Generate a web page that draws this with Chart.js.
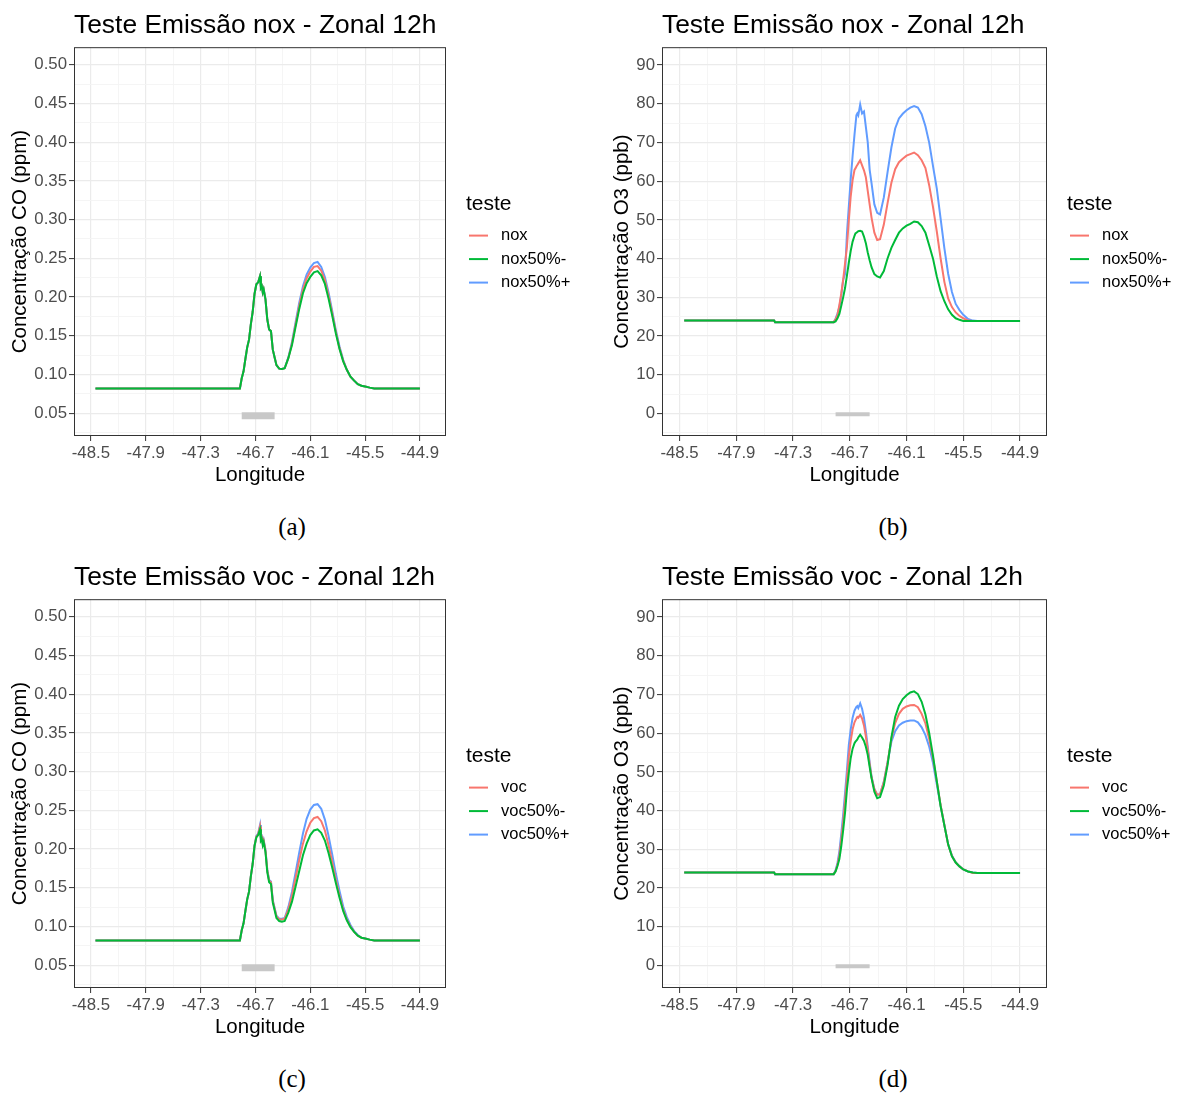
<!DOCTYPE html>
<html lang="pt">
<head>
<meta charset="UTF-8" />
<title>Teste Emissão - Zonal 12h</title>
<script src="https://cdn.jsdelivr.net/npm/chart.js"></script>
<style>
  body { margin: 0; background: #fff; width: 1177px; height: 1095px; position: relative; overflow: hidden; }
  .painel { position: absolute; height: 490px; }
  .legenda { position: absolute; width: 100px; margin-left: -50px; text-align: center; line-height: 30px;
             font-family: "Liberation Serif", "Times New Roman", serif; font-size: 25px; color: #000; }
</style>
</head>
<body>
<div class="painel" style="left:0;top:0;width:590px"><canvas id="graficoA"></canvas></div>
<div class="painel" style="left:590px;top:0;width:587px"><canvas id="graficoB"></canvas></div>
<div class="painel" style="left:0;top:552px;width:590px"><canvas id="graficoC"></canvas></div>
<div class="painel" style="left:590px;top:552px;width:587px"><canvas id="graficoD"></canvas></div>
<div class="legenda" style="left:292px;top:512px">(a)</div>
<div class="legenda" style="left:893px;top:512px">(b)</div>
<div class="legenda" style="left:292px;top:1064px">(c)</div>
<div class="legenda" style="left:893px;top:1064px">(d)</div>

<script>
// longitudes do corte zonal (comum aos quatro painéis)
const lon = [-48.45, -47.50, -47.49, -46.87, -46.85, -46.83, -46.81, -46.79, -46.77, -46.75,
  -46.73, -46.71, -46.69, -46.67, -46.65, -46.64, -46.63, -46.62, -46.61, -46.59,
  -46.57, -46.55, -46.53, -46.51, -46.49, -46.47, -46.44, -46.41, -46.38, -46.34,
  -46.30, -46.26, -46.22, -46.18, -46.14, -46.10, -46.06, -46.02, -45.98, -45.94,
  -45.90, -45.86, -45.82, -45.78, -45.74, -45.70, -45.66, -45.62, -45.58, -45.54,
  -45.50, -45.45, -45.40, -45.35, -44.90];

// CO (ppm) - teste nox
const coNox = [0.082, 0.082, 0.082, 0.082, 0.095, 0.104, 0.120, 0.135, 0.145, 0.165,
  0.181, 0.204, 0.2165, 0.219, 0.227, 0.212, 0.214, 0.206, 0.210, 0.197,
  0.171, 0.158, 0.156, 0.132, 0.122, 0.112, 0.1075, 0.107, 0.108, 0.121,
  0.140, 0.165, 0.189, 0.210, 0.224, 0.233, 0.239, 0.240, 0.234, 0.222,
  0.202, 0.179, 0.155, 0.134, 0.118, 0.106, 0.097, 0.092, 0.0875, 0.0855,
  0.0845, 0.083, 0.082, 0.082, 0.082];
const coNox50m = [0.082, 0.082, 0.082, 0.082, 0.095, 0.104, 0.120, 0.135, 0.145, 0.165,
  0.181, 0.204, 0.2165, 0.219, 0.227, 0.212, 0.214, 0.206, 0.210, 0.197,
  0.171, 0.158, 0.156, 0.132, 0.122, 0.112, 0.1075, 0.107, 0.108, 0.121,
  0.138, 0.162, 0.185, 0.205, 0.218, 0.226, 0.232, 0.2335, 0.228, 0.217,
  0.198, 0.176, 0.153, 0.133, 0.117, 0.106, 0.097, 0.092, 0.0875, 0.0855,
  0.0845, 0.083, 0.082, 0.082, 0.082];
const coNox50p = [0.082, 0.082, 0.082, 0.082, 0.095, 0.104, 0.120, 0.135, 0.145, 0.165,
  0.181, 0.204, 0.2165, 0.219, 0.227, 0.212, 0.214, 0.206, 0.210, 0.197,
  0.171, 0.158, 0.156, 0.132, 0.122, 0.112, 0.1075, 0.107, 0.108, 0.122,
  0.142, 0.168, 0.193, 0.214, 0.229, 0.238, 0.244, 0.2455, 0.239, 0.226,
  0.206, 0.182, 0.157, 0.136, 0.119, 0.106, 0.097, 0.092, 0.0875, 0.0855,
  0.0845, 0.083, 0.082, 0.082, 0.082];

// O3 (ppb) - teste nox
const o3Nox = [24.0, 24.0, 23.6, 23.6, 24.3, 25.5, 28.0, 31.0, 34.5, 38.7,
  43.0, 49.9, 56.1, 60.3, 62.9, 63.3, 63.8, 64.2, 64.6, 65.4,
  64.1, 62.8, 61.0, 57.5, 54.0, 50.6, 46.7, 44.8, 45.0, 48.8,
  54.4, 59.6, 63.1, 64.9, 65.8, 66.6, 67.0, 67.4, 66.7, 65.4,
  63.4, 58.9, 53.3, 47.0, 40.1, 34.0, 29.7, 27.5, 26.1, 25.2,
  24.6, 24.0, 23.9, 23.9, 23.9];
const o3Nox50m = [24.0, 24.0, 23.6, 23.6, 23.8, 24.6, 25.7, 27.8, 30.0, 32.4,
  35.6, 39.0, 42.0, 44.4, 45.9, 46.5, 46.7, 46.9, 47.1, 47.2,
  47.0, 45.7, 44.0, 41.6, 39.6, 37.8, 36.0, 35.4, 35.1, 36.8,
  40.1, 42.8, 44.8, 46.7, 47.8, 48.5, 49.0, 49.6, 49.4, 48.4,
  46.7, 43.4, 40.0, 35.4, 31.6, 29.0, 26.9, 25.5, 24.6, 24.2,
  23.9, 23.9, 23.9, 23.9, 23.9];
const o3Nox50p = [24.0, 24.0, 23.6, 23.6, 24.5, 25.8, 27.5, 30.5, 34.5, 36.0,
  46.5, 53.5, 60.5, 66.5, 72.0, 74.5, 77.0, 77.5, 77.0, 79.8,
  77.5, 78.0, 74.0, 70.0, 63.0, 59.5, 54.0, 51.8, 51.4, 55.8,
  62.4, 68.7, 73.6, 76.2, 77.4, 78.3, 79.0, 79.4, 79.0, 77.3,
  74.2, 69.9, 63.9, 58.1, 50.4, 42.7, 36.1, 31.4, 28.3, 26.7,
  25.5, 24.4, 24.0, 23.9, 23.9];

// CO (ppm) - teste voc
const coVoc = [0.082, 0.082, 0.082, 0.082, 0.095, 0.104, 0.120, 0.135, 0.145, 0.165,
  0.181, 0.204, 0.216, 0.219, 0.229, 0.213, 0.215, 0.207, 0.211, 0.198,
  0.172, 0.159, 0.157, 0.133, 0.123, 0.113, 0.109, 0.109, 0.110, 0.122,
  0.140, 0.163, 0.186, 0.207, 0.223, 0.234, 0.240, 0.2415, 0.236, 0.224,
  0.205, 0.183, 0.160, 0.140, 0.122, 0.109, 0.100, 0.093, 0.088, 0.0855,
  0.0845, 0.083, 0.082, 0.082, 0.082];
const coVoc50m = [0.082, 0.082, 0.082, 0.082, 0.095, 0.104, 0.120, 0.135, 0.145, 0.165,
  0.181, 0.204, 0.215, 0.218, 0.2255, 0.211, 0.213, 0.205, 0.209, 0.196,
  0.170, 0.157, 0.155, 0.131, 0.121, 0.111, 0.107, 0.106, 0.107, 0.118,
  0.132, 0.152, 0.172, 0.192, 0.207, 0.218, 0.224, 0.2255, 0.221, 0.211,
  0.195, 0.176, 0.156, 0.137, 0.120, 0.108, 0.099, 0.093, 0.088, 0.0855,
  0.0845, 0.083, 0.082, 0.082, 0.082];
const coVoc50p = [0.082, 0.082, 0.082, 0.082, 0.095, 0.104, 0.120, 0.135, 0.145, 0.165,
  0.181, 0.204, 0.217, 0.220, 0.231, 0.214, 0.216, 0.208, 0.212, 0.199,
  0.173, 0.160, 0.158, 0.134, 0.124, 0.114, 0.110, 0.110, 0.111, 0.125,
  0.145, 0.170, 0.196, 0.220, 0.239, 0.251, 0.257, 0.258, 0.252, 0.238,
  0.217, 0.193, 0.168, 0.146, 0.126, 0.112, 0.102, 0.094, 0.089, 0.0855,
  0.0845, 0.083, 0.082, 0.082, 0.082];

// O3 (ppb) - teste voc
const o3Voc = [24.0, 24.0, 23.6, 23.6, 24.4, 26.0, 28.5, 32.5, 37.0, 42.5,
  48.5, 54.0, 58.0, 61.0, 62.8, 63.3, 63.8, 64.2, 64.0, 64.7,
  63.8, 62.0, 59.2, 55.8, 52.0, 48.6, 45.5, 44.1, 44.2, 47.3,
  52.5, 58.6, 62.6, 65.0, 66.3, 66.9, 67.2, 67.3, 66.7, 65.0,
  62.5, 58.5, 53.6, 47.6, 41.5, 36.3, 31.2, 28.3, 26.6, 25.6,
  24.8, 24.3, 23.9, 23.9, 23.9];
const o3Voc50m = [24.0, 24.0, 23.6, 23.6, 24.3, 25.7, 27.5, 30.8, 34.9, 39.5,
  45.4, 49.8, 53.6, 56.0, 57.4, 57.8, 58.1, 58.4, 58.9, 59.6,
  58.9, 58.0, 56.5, 54.4, 51.3, 48.4, 44.9, 43.2, 43.5, 46.5,
  51.8, 58.9, 64.2, 67.1, 68.8, 69.8, 70.5, 70.8, 70.1, 68.1,
  64.8, 60.0, 54.1, 47.6, 41.2, 36.2, 31.3, 28.2, 26.6, 25.6,
  24.8, 24.3, 24.0, 23.9, 23.9];
const o3Voc50p = [24.0, 24.0, 23.6, 23.6, 24.6, 26.5, 29.5, 34.0, 39.0, 44.5,
  50.5, 57.0, 61.0, 64.0, 65.8, 66.3, 66.8, 67.0, 66.5, 67.7,
  66.3, 64.0, 60.5, 56.5, 52.5, 48.8, 45.6, 44.1, 44.2, 47.5,
  52.5, 57.8, 60.5, 62.0, 62.7, 63.1, 63.3, 63.3, 62.8, 61.5,
  59.5, 56.5, 52.3, 46.8, 41.3, 36.3, 31.3, 28.4, 26.6, 25.6,
  24.8, 24.3, 24.0, 23.9, 23.9];

// faixa cinza (extensão da cidade) e ticks
const faixaLon = [-46.85, -46.49];
const xMaior = [-48.5, -47.9, -47.3, -46.7, -46.1, -45.5, -44.9];
const coMaior = [0.05, 0.10, 0.15, 0.20, 0.25, 0.30, 0.35, 0.40, 0.45, 0.50];
const o3Maior = [0, 10, 20, 30, 40, 50, 60, 70, 80, 90];
const cores = ['#F8766D', '#00BA38', '#619CFF'];

const fonte = '"Liberation Sans", Arial, sans-serif';
Chart.defaults.font.family = fonte;

function ehMaior(v, maiores) {
  return maiores.some(m => Math.abs(m - v) < 1e-6);
}

function comMenores(maiores, min, max) {
  const passo = maiores[1] - maiores[0];
  const t = [];
  maiores.forEach(v => t.push(v - passo / 2, v));
  t.push(maiores[maiores.length - 1] + passo / 2);
  return t.filter(v => v >= min && v <= max).map(v => ({ value: v }));
}

function grade(maiores) {
  return {
    color: c => (c.tick && ehMaior(c.tick.value, maiores)) ? '#EBEBEB' : '#F4F4F4',
    lineWidth: c => (c.tick && ehMaior(c.tick.value, maiores)) ? 1.2 : 0.9,
    tickColor: c => (c.tick && ehMaior(c.tick.value, maiores)) ? '#333333' : 'rgba(0,0,0,0)',
    tickWidth: 1,
    tickLength: 5
  };
}

const molduraPlugin = {
  id: 'moldura',
  afterDraw(chart) {
    const { ctx, chartArea: a } = chart;
    ctx.save();
    ctx.strokeStyle = '#333333';
    ctx.lineWidth = 1;
    ctx.strokeRect(a.left + 0.5, a.top + 0.5, a.right - a.left - 1, a.bottom - a.top - 1);
    ctx.restore();
  }
};

const legendaPlugin = {
  id: 'legendaGG',
  afterDraw(chart) {
    const { ctx, chartArea: a } = chart;
    const x = a.right + 20;
    const meio = (a.top + a.bottom) / 2;
    ctx.save();
    ctx.fillStyle = '#000';
    ctx.textBaseline = 'middle';
    ctx.textAlign = 'left';
    ctx.font = '21px ' + fonte;
    ctx.fillText('teste', x, meio - 37);
    ctx.font = '16.5px ' + fonte;
    chart.data.datasets.filter(d => d.label).forEach((d, i) => {
      const y = meio - 6 + i * 23.5;
      ctx.strokeStyle = d.borderColor;
      ctx.lineWidth = 2;
      ctx.beginPath();
      ctx.moveTo(x + 3, y);
      ctx.lineTo(x + 22, y);
      ctx.stroke();
      ctx.fillText(d.label, x + 35, y);
    });
    ctx.restore();
  }
};

function criarGrafico(id, cfg) {
  const serie = (nome, valores, cor, ordem) => ({
    label: nome,
    data: lon.map((x, i) => ({ x: x, y: valores[i] })),
    borderColor: cor,
    backgroundColor: cor,
    borderWidth: 2,
    pointRadius: 0,
    tension: 0,
    order: ordem
  });
  const datasets = [
    serie(cfg.nomes[0], cfg.series[0], cores[0], 1),
    serie(cfg.nomes[1], cfg.series[1], cores[1], 0),
    serie(cfg.nomes[2], cfg.series[2], cores[2], 2),
    {
      label: '',
      data: faixaLon.map(x => ({ x: x, y: cfg.faixaY })),
      borderColor: '#C8C8C8',
      borderWidth: cfg.faixaLargura,
      borderCapStyle: 'butt',
      pointRadius: 0,
      order: 3
    }
  ];

  return new Chart(document.getElementById(id), {
    type: 'line',
    data: { datasets: datasets },
    options: {
      responsive: true,
      maintainAspectRatio: false,
      animation: false,
      events: [],
      layout: { padding: { left: 0, top: 0, right: cfg.direita, bottom: 0 } },
      plugins: {
        legend: { display: false },
        tooltip: { enabled: false },
        title: {
          display: true,
          text: cfg.titulo,
          align: 'start',
          fullSize: false,
          color: '#000',
          font: { size: 26.4, weight: 'normal' },
          padding: { top: 10, bottom: 5.5 }
        }
      },
      scales: {
        x: {
          type: 'linear',
          min: -48.685,
          max: -44.615,
          afterBuildTicks: s => { s.ticks = comMenores(xMaior, -48.685, -44.615); },
          afterFit: s => { s.height = 54; },
          border: { display: false },
          grid: grade(xMaior),
          ticks: {
            autoSkip: false,
            maxRotation: 0,
            padding: 2,
            color: '#4D4D4D',
            font: { size: 16.8 },
            callback: v => ehMaior(v, xMaior) ? v.toFixed(1) : ''
          },
          title: {
            display: true,
            text: 'Longitude',
            color: '#000',
            font: { size: 20.5 },
            padding: { top: 0, bottom: 2 }
          }
        },
        y: {
          type: 'linear',
          min: cfg.yMin,
          max: cfg.yMax,
          afterBuildTicks: s => { s.ticks = comMenores(cfg.yMaior, cfg.yMin, cfg.yMax); },
          afterFit: s => { s.width = cfg.largY; },
          border: { display: false },
          grid: grade(cfg.yMaior),
          ticks: {
            autoSkip: false,
            padding: 2,
            color: '#4D4D4D',
            font: { size: 16.8 },
            callback: v => ehMaior(v, cfg.yMaior) ? v.toFixed(cfg.casas) : ''
          },
          title: {
            display: true,
            text: cfg.tituloY,
            color: '#000',
            font: { size: 20.5 },
            padding: { top: cfg.padTituloY, bottom: 0 }
          }
        }
      }
    },
    plugins: [molduraPlugin, legendaPlugin]
  });
}

const baseCO = { yMin: 0.0205, yMax: 0.5228, yMaior: coMaior, casas: 2, largY: 74, direita: 144,
  tituloY: 'Concentração CO (ppm)', padTituloY: 8.5, faixaY: 0.0465, faixaLargura: 7 };
const baseO3 = { yMin: -5.8, yMax: 94.6, yMaior: o3Maior, casas: 0, largY: 72, direita: 130,
  tituloY: 'Concentração O3 (ppb)', padTituloY: 20, faixaY: -0.2, faixaLargura: 4 };

criarGrafico('graficoA', Object.assign({}, baseCO, {
  titulo: 'Teste Emissão nox - Zonal 12h',
  nomes: ['nox', 'nox50%-', 'nox50%+'],
  series: [coNox, coNox50m, coNox50p]
}));
criarGrafico('graficoB', Object.assign({}, baseO3, {
  titulo: 'Teste Emissão nox - Zonal 12h',
  nomes: ['nox', 'nox50%-', 'nox50%+'],
  series: [o3Nox, o3Nox50m, o3Nox50p]
}));
criarGrafico('graficoC', Object.assign({}, baseCO, {
  titulo: 'Teste Emissão voc - Zonal 12h',
  nomes: ['voc', 'voc50%-', 'voc50%+'],
  series: [coVoc, coVoc50m, coVoc50p]
}));
criarGrafico('graficoD', Object.assign({}, baseO3, {
  titulo: 'Teste Emissão voc - Zonal 12h',
  nomes: ['voc', 'voc50%-', 'voc50%+'],
  series: [o3Voc, o3Voc50m, o3Voc50p]
}));
</script>
</body>
</html>
